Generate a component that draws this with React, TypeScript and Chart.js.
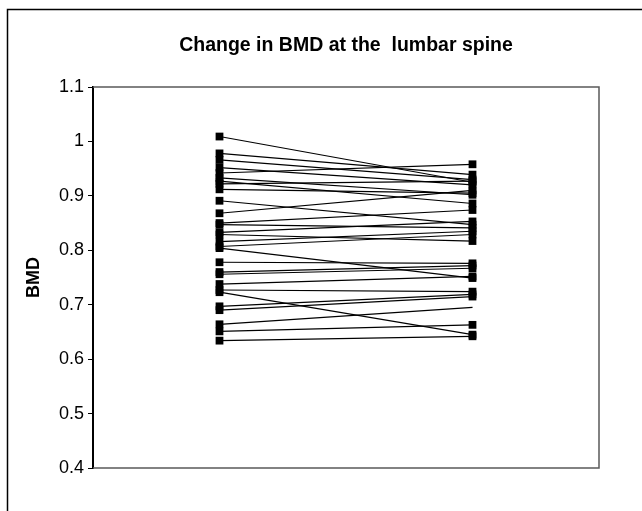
import React, { useEffect, useRef } from "react";
import { Chart, registerables } from "chart.js";

Chart.register(...registerables);

const categories = ["Baseline", "Follow-up"];
const baselineBMD = [
  1.009, 0.978, 0.966, 0.952, 0.942, 0.933, 0.927, 0.922, 0.912, 0.891,
  0.868, 0.85, 0.847, 0.833, 0.829, 0.816, 0.807, 0.804, 0.778, 0.76,
  0.756, 0.738, 0.727, 0.723, 0.697, 0.69, 0.664, 0.651, 0.634,
];
const followUpBMD = [
  0.925, 0.939, 0.93, 0.92, 0.958, 0.902, 0.886, 0.927, 0.905, 0.847,
  0.91, 0.874, 0.841, 0.853, 0.817, 0.835, 0.829, 0.749, 0.776, 0.772,
  0.767, 0.752, 0.724, 0.645, 0.719, 0.715, 0.695, 0.663, 0.642,
];
// index of the subject whose follow-up marker is drawn as a short dash
const dashMarkerIndex = 26;
const yTicks = [0.4, 0.5, 0.6, 0.7, 0.8, 0.9, 1.0, 1.1];
const yMin = 0.4;
const yMax = 1.1;
const titleText = "Change in BMD at the  lumbar spine";
const yTitle = "BMD";

const FONT = "'Liberation Sans', Arial, sans-serif";

export default function App() {
  const ref = useRef<HTMLCanvasElement | null>(null);

  useEffect(() => {
    const canvas = ref.current;
    if (!canvas) return;

    const framePlugin = {
      id: "framePlugin",
      beforeDatasetsDraw(chart: any) {
        const { ctx, chartArea } = chart;
        ctx.save();
        ctx.strokeStyle = "#5a5a5a";
        ctx.lineWidth = 1.5;
        ctx.beginPath();
        ctx.moveTo(chartArea.left, chartArea.top);
        ctx.lineTo(chartArea.right, chartArea.top);
        ctx.lineTo(chartArea.right, chartArea.bottom);
        ctx.lineTo(chartArea.left, chartArea.bottom);
        ctx.stroke();
        ctx.restore();
      },
      afterDraw(chart: any) {
        const { ctx, width, height } = chart;
        ctx.save();
        ctx.strokeStyle = "#000";
        ctx.lineWidth = 1.5;
        ctx.beginPath();
        ctx.moveTo(7.5, height);
        ctx.lineTo(7.5, 9.5);
        ctx.lineTo(width, 9.5);
        ctx.stroke();
        ctx.restore();
      },
    };

    const datasets = baselineBMD.map((b, i) => ({
      label: "Subject " + (i + 1),
      data: [b, followUpBMD[i]],
      borderColor: "#000",
      borderWidth: 1.2,
      backgroundColor: "#000",
      pointBackgroundColor: "#000",
      pointBorderColor: "#000",
      pointBorderWidth: 0,
      pointStyle: i === dashMarkerIndex ? ["rect", "line"] : "rect",
      pointRadius: i === dashMarkerIndex ? [5.5, 4] : 5.5,
      pointHoverRadius: 5.5,
      clip: false as any,
    }));

    const chart = new Chart(canvas, {
      type: "line",
      data: { labels: categories, datasets },
      options: {
        responsive: false,
        animation: false,
        events: [],
        layout: { padding: { top: 34, left: 20, right: 43, bottom: 43 } },
        plugins: {
          legend: { display: false },
          tooltip: { enabled: false },
          title: {
            display: true,
            fullSize: false,
            text: titleText,
            color: "#000",
            font: { family: FONT, size: 19.5, weight: "bold", lineHeight: 1.2 },
            padding: { top: 0, bottom: 29.6 },
          },
        },
        scales: {
          x: {
            type: "category",
            display: false,
            offset: true,
          },
          y: {
            type: "linear",
            min: yMin,
            max: yMax,
            afterBuildTicks(scale: any) {
              scale.ticks = yTicks.map((v) => ({ value: v }));
            },
            afterFit(scale: any) {
              scale.width = 73;
            },
            border: { display: true, color: "#000", width: 2 },
            grid: {
              drawOnChartArea: false,
              drawTicks: true,
              tickLength: 5,
              color: "#000",
              lineWidth: 1,
            },
            ticks: {
              color: "#000",
              padding: 4,
              font: { family: FONT, size: 18 },
              callback: (v: any) => String(Number(Number(v).toFixed(1))),
            },
            title: {
              display: true,
              text: yTitle,
              color: "#000",
              font: { family: FONT, size: 18, weight: "bold", lineHeight: 1.2 },
              padding: { top: 3, bottom: 0 },
            },
          },
        },
      },
      plugins: [framePlugin],
    });

    return () => chart.destroy();
  }, []);

  return (
    <div style={{ position: "fixed", left: 0, top: 0, width: 642, height: 511, background: "#fff" }}>
      <canvas ref={ref} width={642} height={511} />
    </div>
  );
}
